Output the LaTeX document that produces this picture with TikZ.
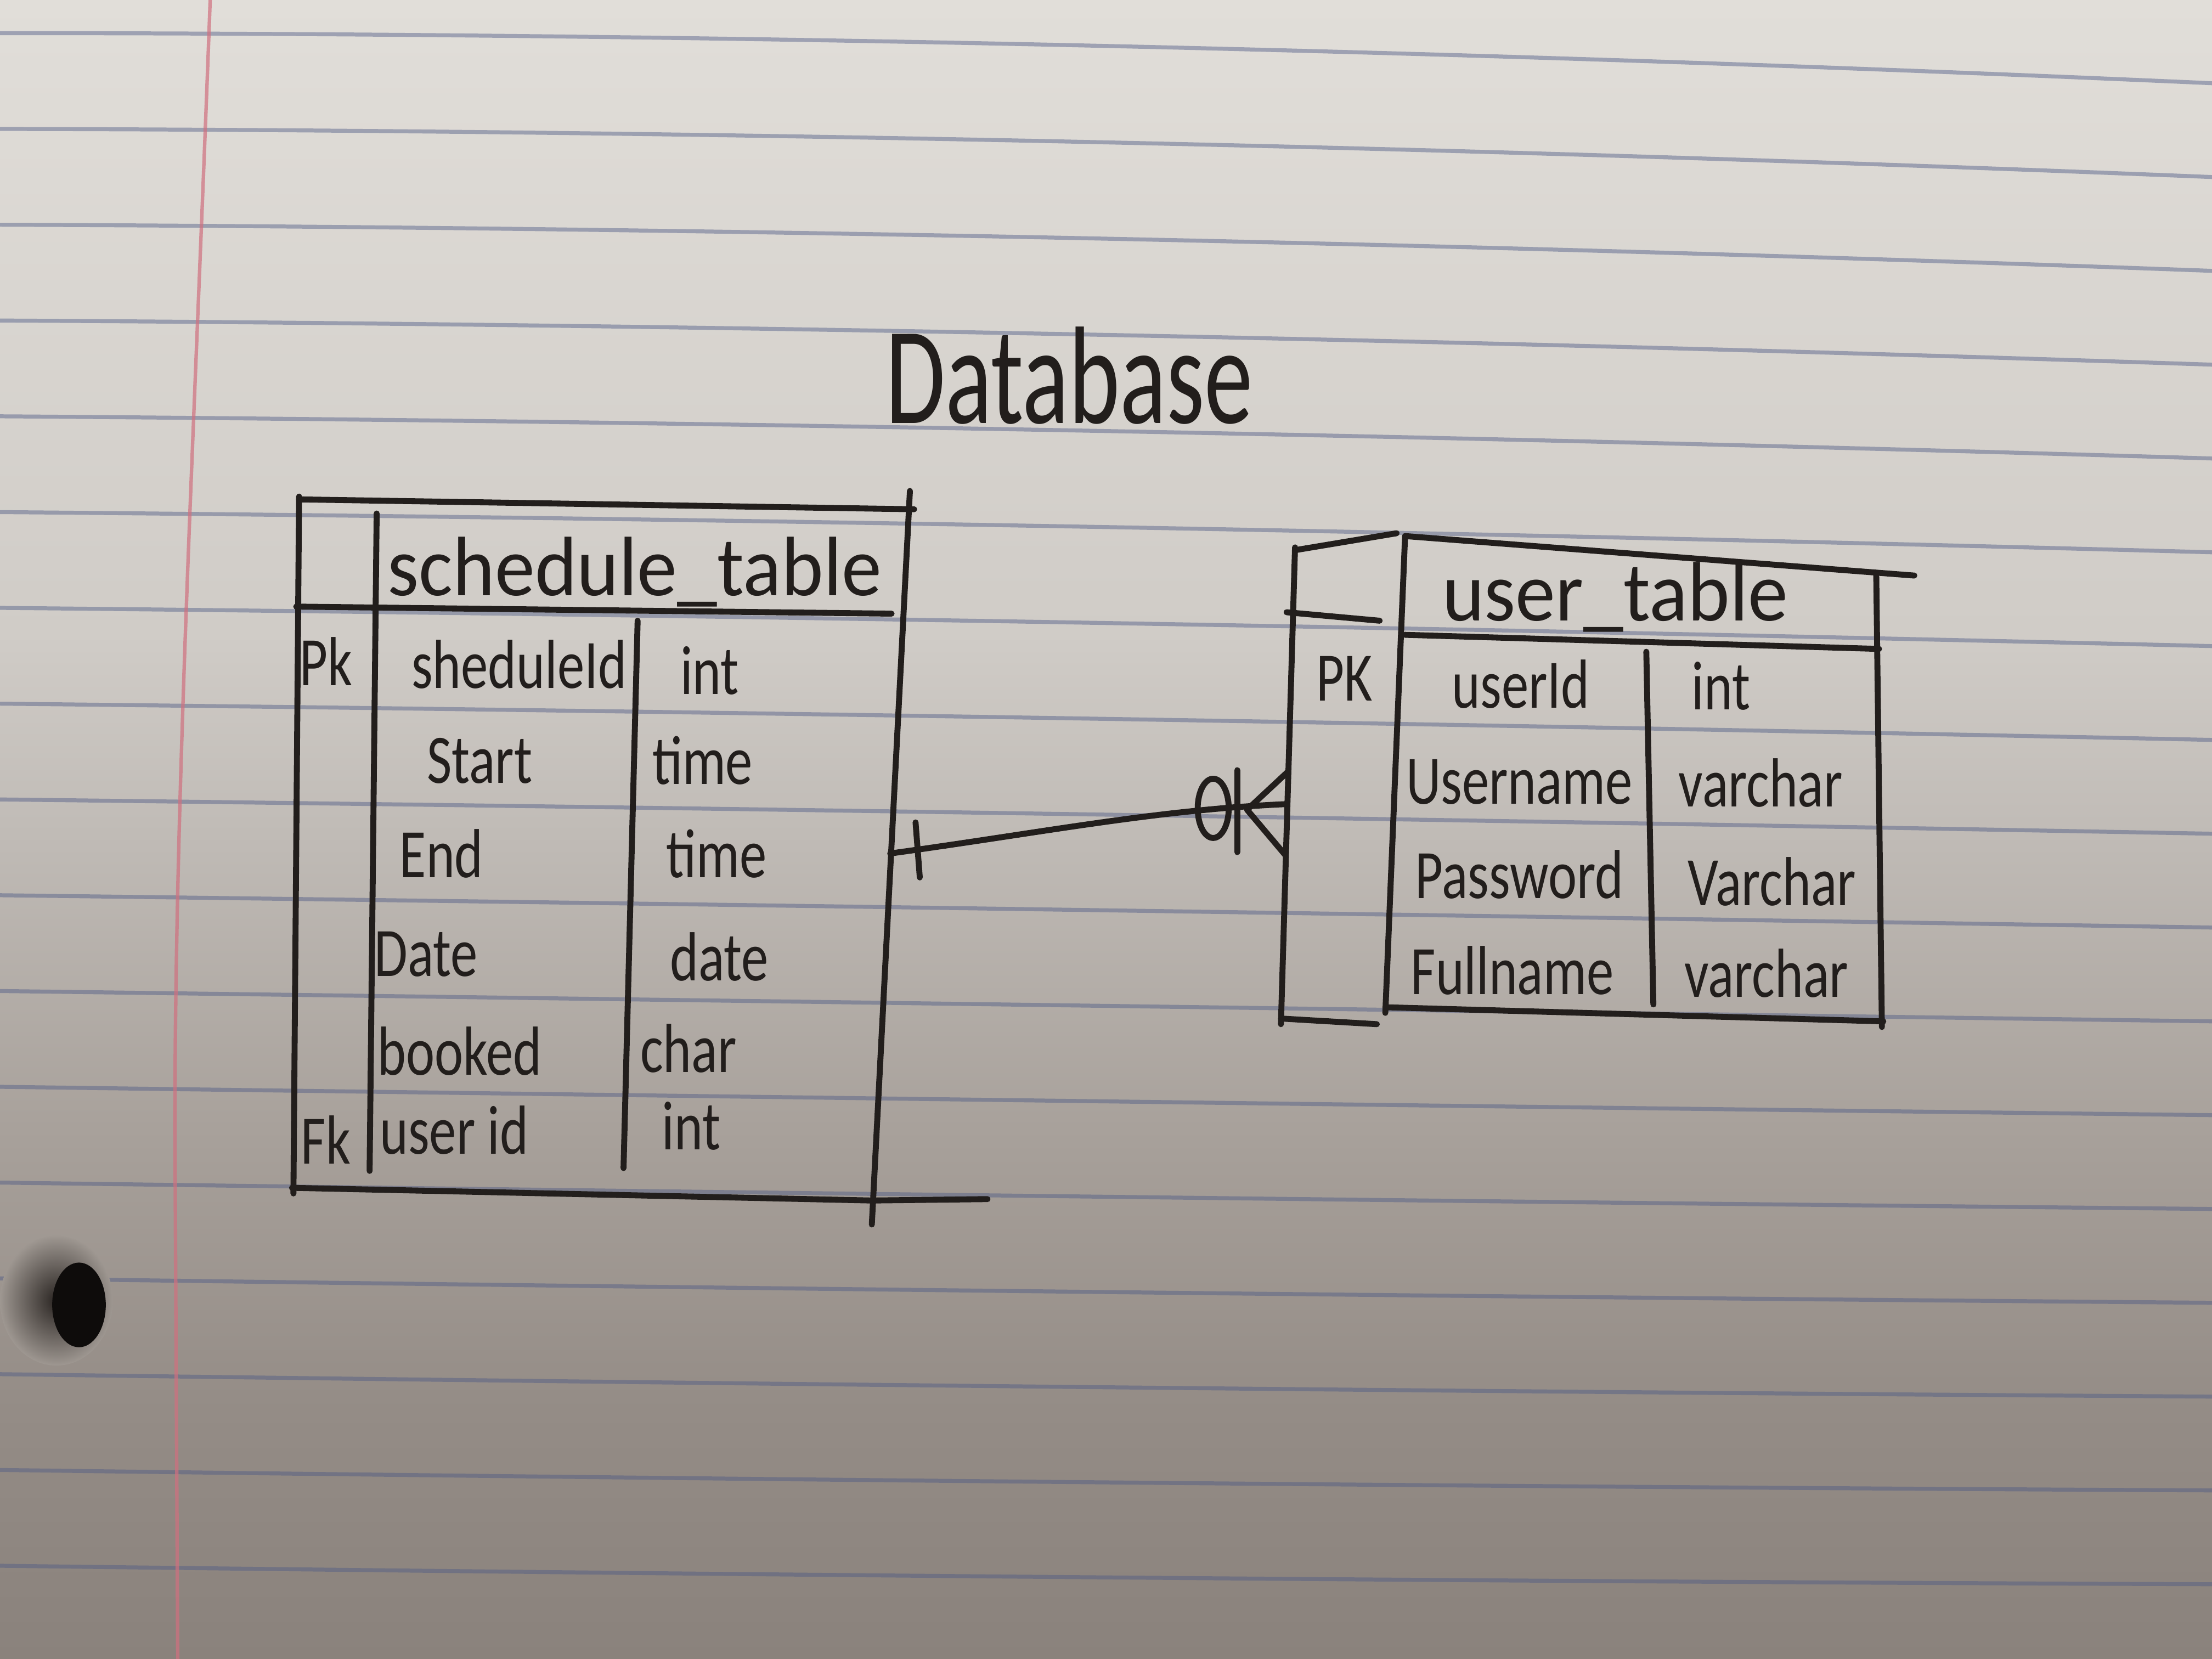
\documentclass[tikz,border=0pt]{standalone}
\usepackage{fontspec}
\setmainfont{Carlito}
\usepackage{graphicx}
\definecolor{ink}{HTML}{221E1C}
\definecolor{bgA}{HTML}{8A827C}
\definecolor{bgB}{HTML}{948C86}
\definecolor{bgC}{HTML}{A8A19B}
\definecolor{bgD}{HTML}{BFBAB5}
\definecolor{bgE}{HTML}{D0CCC7}
\definecolor{bgF}{HTML}{E1DED9}
\definecolor{bghole}{HTML}{9E9791}
\definecolor{ruleblue}{HTML}{4E5A85}
\definecolor{margred}{HTML}{D0707F}
\definecolor{holeshade}{HTML}{2A2522}
\definecolor{holecore}{HTML}{0E0C0B}
\pgfdeclareverticalshading{paperbg}{100bp}{color(0bp)=(bgA); color(25bp)=(bgA); color(32.5bp)=(bgB); color(41bp)=(bgC); color(49.5bp)=(bgD); color(55.9bp)=(bgE); color(75bp)=(bgF); color(100bp)=(bgF)}
\newcommand{\hwrow}[1]{\scalebox{0.78}[1]{#1}}
\newcommand{\hwhead}[1]{\scalebox{0.95}[1]{#1}}
\newcommand{\hwtitle}[1]{\scalebox{0.7}[1]{#1}}
\begin{document}
\begin{tikzpicture}[x=0.01cm,y=-0.01cm,
  inkline/.style={draw=ink,line width=1.2pt,line cap=round,line join=round},
  paperline/.style={draw=ruleblue,opacity=0.45,line width=0.8pt},
  hand/.style={text=ink,inner sep=0pt,anchor=base,font=\fontsize{14}{16}\selectfont},
  handhead/.style={text=ink,inner sep=0pt,anchor=base,font=\fontsize{17}{20}\selectfont},
  handtitle/.style={text=ink,inner sep=0pt,anchor=base,font=\fontsize{28}{32}\selectfont}]
\useasboundingbox (0,0) rectangle (1568,1176);
% paper
\fill[shading=paperbg] (0,0) rectangle (1568,1176);
\foreach \i in {0,...,16}{
  \pgfmathsetmacro\yl{23.5+67.9*\i}
  \pgfmathsetmacro\dd{35.5-1.4*\i}
  \pgfmathsetmacro\ya{\yl+0.5*\i/16*\dd}
  \pgfmathsetmacro\yb{\yl+(0.35+0.5*\i/16)*\dd}
  \pgfmathsetmacro\yr{\yl+\dd}
  \draw[paperline] (0,\yl) .. controls (520,\ya) and (1050,\yb) .. (1568,\yr);
}
\draw[margred,opacity=0.7,line width=0.7pt] (149,0) .. controls (138,300) and (124,560) .. (124,800) -- (126,1176);
\shade[inner color=holeshade, outer color=bghole] (40,922) ellipse [x radius=40, y radius=46];
\fill[holecore] (56,925) ellipse [x radius=19, y radius=30];

% title
\node[handtitle] (title) at (758,300) {\hwtitle{Database}};

% schedule_table frame
\draw[inkline] (212,354) -- (648,361);
\draw[inkline] (645,348) -- (618,868);
\draw[inkline] (212,352) -- (208,846);
\draw[inkline] (267,364) -- (262,830);
\draw[inkline] (210,430) -- (632,435);
\draw[inkline] (452,440) -- (442,828);
\draw[inkline] (207,842) -- (618,851) -- (700,850);
% schedule_table texts
\node[handhead] (sched) at (450,422) {\hwhead{schedule\_table}};
\node[hand] (spk) at (231,486) {\hwrow{Pk}};
\node[hand] (sid) at (368,488) {\hwrow{sheduleId}};
\node[hand] (sidt) at (503,492) {\hwrow{int}};
\node[hand] (sst) at (340,555) {\hwrow{Start}};
\node[hand] (sstt) at (498,556) {\hwrow{time}};
\node[hand] (sen) at (313,622) {\hwrow{End}};
\node[hand] (sent) at (508,622) {\hwrow{time}};
\node[hand] (sda) at (302,692) {\hwrow{Date}};
\node[hand] (sdat) at (510,695) {\hwrow{date}};
\node[hand] (sbo) at (326,762) {\hwrow{booked}};
\node[hand] (sbot) at (488,760) {\hwrow{char}};
\node[hand] (sfk) at (231,825) {\hwrow{Fk}};
\node[hand] (suid) at (322,818) {\hwrow{user id}};
\node[hand] (suidt) at (490,815) {\hwrow{int}};

% user_table frame
\draw[inkline] (918,390) -- (990,378);
\draw[inkline] (996,380) -- (1357,408);
\draw[inkline] (918,388) -- (908,726);
\draw[inkline] (912,434) -- (978,440);
\draw[inkline] (996,380) -- (982,718);
\draw[inkline] (996,450) -- (1332,460);
\draw[inkline] (1330,407) -- (1334,728);
\draw[inkline] (1167,462) -- (1172,712);
\draw[inkline] (908,722) -- (976,726);
\draw[inkline] (982,714) -- (1335,724);
% user_table texts
\node[handhead] (user) at (1145,440) {\hwhead{user\_table}};
\node[hand] (upk) at (953,497) {\hwrow{PK}};
\node[hand] (uid) at (1078,502) {\hwrow{userId}};
\node[hand] (uidt) at (1220,503) {\hwrow{int}};
\node[hand] (uun) at (1077,570) {\hwrow{Username}};
\node[hand] (uunt) at (1248,572) {\hwrow{varchar}};
\node[hand] (upw) at (1077,637) {\hwrow{Password}};
\node[hand] (upwt) at (1256,642) {\hwrow{Varchar}};
\node[hand] (ufn) at (1072,705) {\hwrow{Fullname}};
\node[hand] (ufnt) at (1252,707) {\hwrow{varchar}};

% relationship: one (schedule) to many (user)
\coordinate (sR) at (631,605);
\coordinate (uL) at (912,570);
\coordinate (tkA) at (649,583);
\coordinate (tkB) at (652,622);
\coordinate (ring) at (860,573);
\coordinate (barA) at (877,546);
\coordinate (barB) at (877,604);
\coordinate (cf) at (884,574);
\coordinate (cfA) at (913,547);
\coordinate (cfB) at (911,606);
\draw[inkline] (sR) .. controls (740,590) and (820,574) .. (uL);
\draw[inkline] (tkA) -- (tkB);
\draw[inkline] (ring) ellipse [x radius=11, y radius=21];
\draw[inkline] (barA) -- (barB);
\draw[inkline] (cf) -- (cfA);
\draw[inkline] (cf) -- (cfB);
\end{tikzpicture}
\end{document}
